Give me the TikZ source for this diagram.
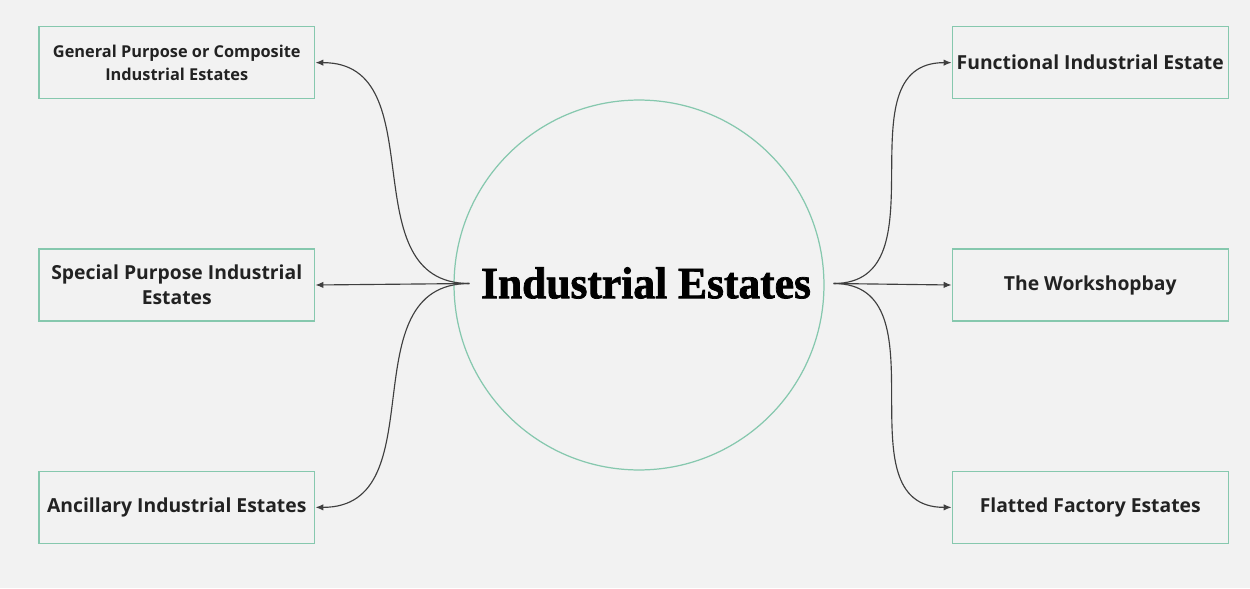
\documentclass[tikz,border=0pt]{standalone}
\usepackage{fontspec}
\setmainfont{Open Sans}
\newfontfamily\titlefont[BoldFeatures={FakeBold=1.6}]{Liberation Serif}
\usetikzlibrary{positioning, arrows.meta}

\definecolor{bggray}{HTML}{F2F2F2}
\definecolor{boxgreen}{HTML}{86C8AE}
\definecolor{linkgray}{HTML}{3F3F3F}
\definecolor{textdark}{HTML}{222222}

\begin{document}
\begin{tikzpicture}[
    x=0.02cm, y=-0.02cm,
    node distance=2.98cm and 2.76cm,
    estate/.style={draw=boxgreen, line width=0.8pt, minimum width=5.52cm, minimum height=1.44cm,
        inner sep=2pt, align=center, text=textdark, font=\bfseries\fontsize{11}{14.5}\selectfont},
    smallestate/.style={estate, font=\bfseries\fontsize{9.3}{13.2}\selectfont},
    hub/.style={draw=boxgreen, circle, line width=0.7pt, minimum size=7.4cm, inner sep=0pt},
    link/.style={draw=linkgray, line width=0.65pt, -{Latex[length=1.6mm,width=1.3mm]}},
]

% --- background ---
\fill[bggray] (0,0) rectangle (1250,588);

% --- centre ---
\node[hub] (hub) at (639,285) {};
\node[inner sep=0pt] (title) at (646,283)
    {\resizebox{6.6cm}{0.62cm}{\titlefont\bfseries Industrial Estates}};

% --- left column ---
\node[estate, left=2.76cm of hub] (special) {Special Purpose Industrial\\Estates};
\node[smallestate, above=of special] (general) {General Purpose or Composite\\Industrial Estates};
\node[estate, below=of special] (ancillary) {Ancillary Industrial Estates};

% --- right column ---
\node[estate, right=2.54cm of hub] (workshop) {The Workshopbay};
\node[estate, above=of workshop] (functional) {Functional Industrial Estate};
\node[estate, below=of workshop] (flatted) {Flatted Factory Estates};

% --- forks ---
\coordinate (lfork) at ([xshift=0.32cm,yshift=0.03cm]hub.west);
\coordinate (rfork) at ([xshift=0.18cm,yshift=0.03cm]hub.east);

% --- links ---
\draw[link] (lfork) to[out=180, in=0, looseness=1.15] (general.east);
\draw[link] (lfork) -- (special.east);
\draw[link] (lfork) to[out=180, in=0, looseness=1.15] (ancillary.east);

\draw[link] (rfork) to[out=0, in=180, looseness=1.15] (functional.west);
\draw[link] (rfork) -- (workshop.west);
\draw[link] (rfork) to[out=0, in=180, looseness=1.15] (flatted.west);

\end{tikzpicture}
\end{document}
